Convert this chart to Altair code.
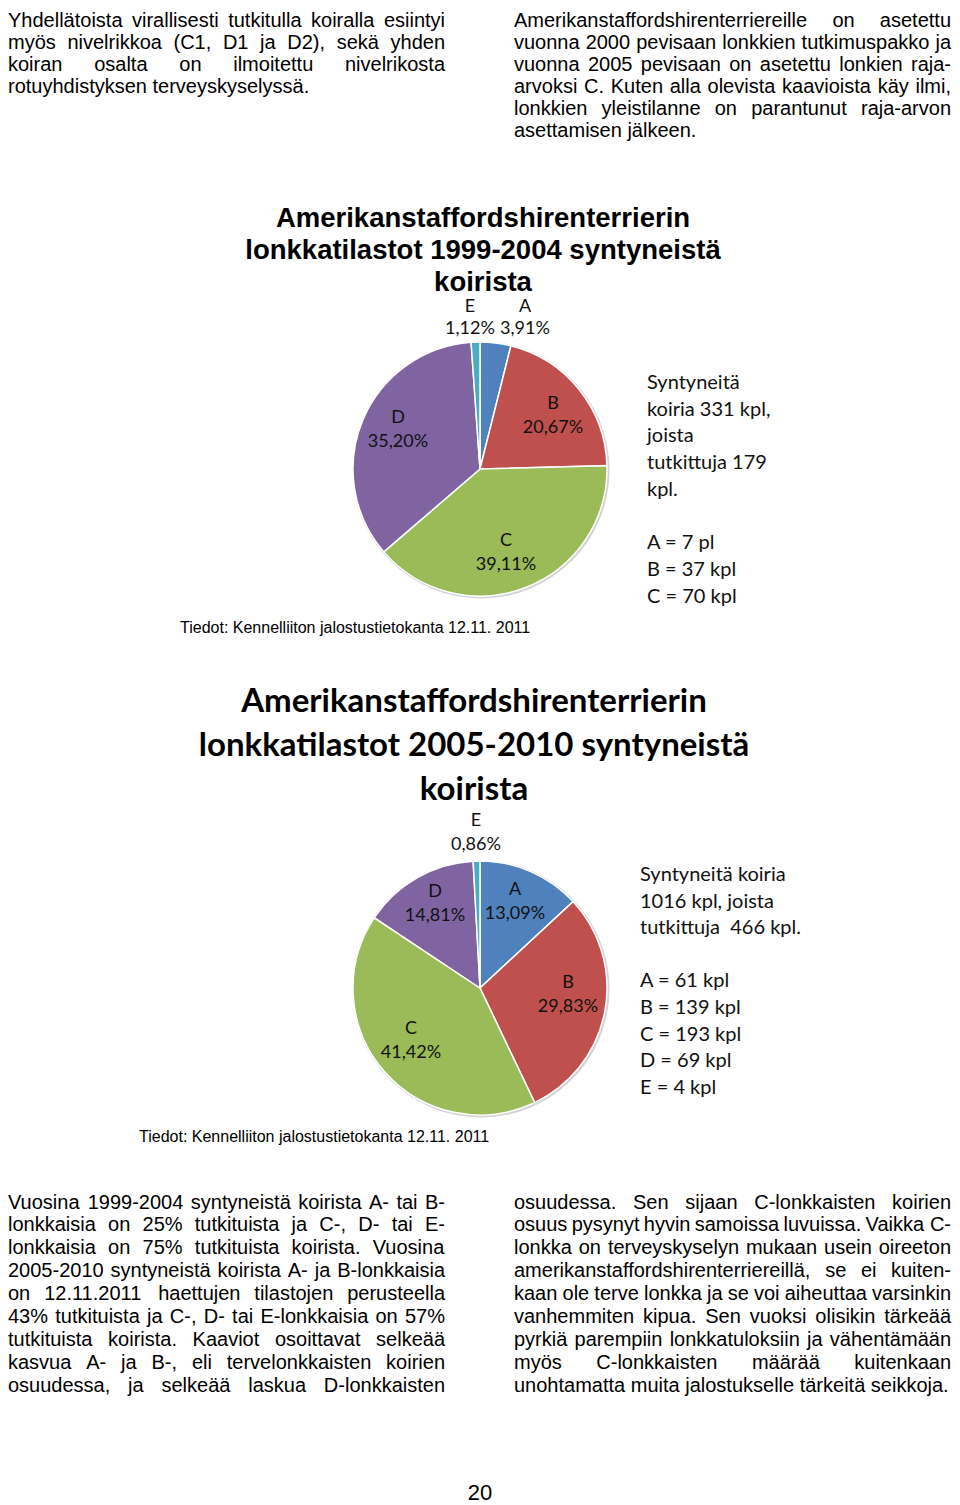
import math
import altair as alt
import pandas as pd

# ---------------- data ----------------
grades = ["A", "B", "C", "D", "E"]
share_1999_2004 = [3.91, 20.67, 39.11, 35.20, 1.12]
share_2005_2010 = [13.09, 29.83, 41.42, 14.81, 0.86]
grade_colors = ["#4F81BD", "#C0504D", "#9BBB59", "#8064A2", "#4BACC6"]

title_1 = ["Amerikanstaffordshirenterrierin", "lonkkatilastot 1999-2004 syntyneistä", "koirista"]
title_2 = ["Amerikanstaffordshirenterrierin", "lonkkatilastot 2005-2010 syntyneistä", "koirista"]

side_1 = ["Syntyneitä", "koiria 331 kpl,", "joista", "tutkittuja 179", "kpl.", "",
          "A = 7 pl", "B = 37 kpl", "C = 70 kpl"]
side_2 = ["Syntyneitä koiria", "1016 kpl, joista", "tutkittuja\u00a0 466 kpl.", "",
          "A = 61 kpl", "B = 139 kpl", "C = 193 kpl", "D = 69 kpl", "E = 4 kpl"]

source_text = "Tiedot: Kennelliiton jalostustietokanta 12.11. 2011"
page_number = "20"

# paragraphs: (line, justified)
para_top_left = [
    ("Yhdellätoista virallisesti tutkitulla koiralla esiintyi", True),
    ("myös nivelrikkoa (C1, D1 ja D2), sekä yhden", True),
    ("koiran osalta on ilmoitettu nivelrikosta", True),
    ("rotuyhdistyksen terveyskyselyssä.", False),
]
para_top_right = [
    ("Amerikanstaffordshirenterriereille on asetettu", True),
    ("vuonna 2000 pevisaan lonkkien tutkimuspakko ja", True),
    ("vuonna 2005 pevisaan on asetettu lonkien raja-", True),
    ("arvoksi C. Kuten alla olevista kaavioista käy ilmi,", True),
    ("lonkkien yleistilanne on parantunut raja-arvon", True),
    ("asettamisen jälkeen.", False),
]
para_bottom_left = [
    ("Vuosina 1999-2004 syntyneistä koirista A- tai B-", True),
    ("lonkkaisia on 25% tutkituista ja C-, D- tai E-", True),
    ("lonkkaisia on 75% tutkituista koirista. Vuosina", True),
    ("2005-2010 syntyneistä koirista A- ja B-lonkkaisia", True),
    ("on 12.11.2011 haettujen tilastojen perusteella", True),
    ("43% tutkituista ja C-, D- tai E-lonkkaisia on 57%", True),
    ("tutkituista koirista. Kaaviot osoittavat selkeää", True),
    ("kasvua A- ja B-, eli tervelonkkaisten koirien", True),
    ("osuudessa, ja selkeää laskua D-lonkkaisten", True),
]
para_bottom_right = [
    ("osuudessa. Sen sijaan C-lonkkaisten koirien", True),
    ("osuus pysynyt hyvin samoissa luvuissa. Vaikka C-", True),
    ("lonkka on terveyskyselyn mukaan usein oireeton", True),
    ("amerikanstaffordshirenterriereillä, se ei kuiten-", True),
    ("kaan ole terve lonkka ja se voi aiheuttaa varsinkin", True),
    ("vanhemmiten kipua. Sen vuoksi olisikin tärkeää", True),
    ("pyrkiä parempiin lonkkatuloksiin ja vähentämään", True),
    ("myös C-lonkkaisten määrää kuitenkaan", True),
    ("unohtamatta muita jalostukselle tärkeitä seikkoja.", False),
]

# ---------------- layout helpers ----------------
OFF = 8
W, H = 944, 1497
BODY_FONT = "Liberation Sans"
CAL_FONT = "Lato"
BODY_FS = 20

AW = {" ": 278, "!": 278, "%": 889, "(": 333, ")": 333, ",": 278, "-": 333, ".": 278, ":": 278}
for d in "0123456789":
    AW[d] = 556
AW.update(dict(zip("ABCDEFGHIJKLMNOPQRSTUVWXYZ",
                   [667, 667, 722, 722, 667, 611, 778, 722, 278, 500, 667, 556, 833,
                    722, 778, 667, 778, 722, 667, 611, 722, 667, 944, 667, 667, 611])))
AW.update(dict(zip("abcdefghijklmnopqrstuvwxyz",
                   [556, 556, 500, 556, 556, 278, 556, 556, 222, 222, 500, 222, 833,
                    556, 556, 556, 556, 333, 500, 278, 556, 500, 722, 500, 500, 500])))
AW.update({"ä": 556, "ö": 556, "å": 556, "Ä": 667, "Ö": 778})


def tw(s, fs):
    return sum(AW.get(c, 556) for c in s) * fs / 1000.0


def justify(lines, x0, x1, y0, dy, fs):
    rows = []
    for i, (line, just) in enumerate(lines):
        words = line.split()
        y = y0 + i * dy
        if just and len(words) > 1:
            total = sum(tw(w, fs) for w in words)
            gap = (x1 - x0 - total) / (len(words) - 1)
        else:
            gap = tw(" ", fs)
        x = x0
        for w in words:
            rows.append({"x": x - OFF, "y": y - OFF, "text": w})
            x += tw(w, fs) + gap
    return rows


def text_layer(rows, **mk):
    df = pd.DataFrame(rows)
    return alt.Chart(df).mark_text(**mk).encode(
        x=alt.X("x:Q", scale=None, axis=None),
        y=alt.Y("y:Q", scale=None, axis=None),
        text="text:N",
    )


def pct(v):
    return f"{v:.2f}".replace(".", ",") + "%"


def pie(values, cx, cy, r):
    df = pd.DataFrame({"grade": grades, "share": values, "k": list(range(len(grades)))})
    return alt.Chart(df).mark_arc(radius=r, stroke="white", strokeWidth=1.5).encode(
        theta=alt.Theta("share:Q", stack=True),
        color=alt.Color("grade:N", scale=alt.Scale(domain=grades, range=grade_colors), legend=None),
        order=alt.Order("k:Q"),
        x=alt.value(cx - OFF),
        y=alt.value(cy - OFF),
    )


def rim(cx, cy, r):
    df = pd.DataFrame({"k": [0]})
    return alt.Chart(df).mark_arc(radius=r, theta=0, theta2=2 * math.pi, color="#d4d4d4").encode(
        x=alt.value(cx - OFF), y=alt.value(cy - OFF)
    )


# ---------------- body text ----------------
body_rows = []
body_rows += justify(para_top_left, 8, 445, 26.5, 22.0, BODY_FS)
body_rows += justify(para_top_right, 514, 951, 26.5, 22.0, BODY_FS)
body_rows += justify(para_bottom_left, 8, 445, 1208.5, 22.9, BODY_FS)
body_rows += justify(para_bottom_right, 514, 951, 1208.5, 22.9, BODY_FS)
body = text_layer(body_rows, font=BODY_FONT, fontSize=BODY_FS, align="left",
                  baseline="alphabetic", color="black")

# titles
t1_rows = [{"x": 483 - OFF, "y": yy - OFF, "text": t} for t, yy in zip(title_1, [219, 251, 283])]
t1 = text_layer(t1_rows, font=BODY_FONT, fontSize=27.5, fontWeight="bold",
                align="center", baseline="middle", color="black")
t2_rows = [{"x": 474 - OFF, "y": yy - OFF, "text": t} for t, yy in zip(title_2, [702, 746, 790])]
t2 = text_layer(t2_rows, font=CAL_FONT, fontSize=33, fontWeight="bold",
                align="center", baseline="middle", color="black")

# pie labels (letter above percentage)
lab_pos_1 = {"A": (525, 307), "B": (553, 404), "C": (506, 541), "D": (398, 418), "E": (470, 307)}
lab_pos_2 = {"A": (515, 890), "B": (568, 983), "C": (411, 1029), "D": (435, 892), "E": (476, 821)}
lab_rows = []
for g, v in zip(grades, share_1999_2004):
    x, y = lab_pos_1[g]
    dy = 22 if g in ("A", "E") else 24
    lab_rows.append({"x": x - OFF, "y": y - OFF, "text": g})
    lab_rows.append({"x": x - OFF, "y": y + dy - OFF, "text": pct(v)})
for g, v in zip(grades, share_2005_2010):
    x, y = lab_pos_2[g]
    lab_rows.append({"x": x - OFF, "y": y - OFF, "text": g})
    lab_rows.append({"x": x - OFF, "y": y + 24 - OFF, "text": pct(v)})
labels = text_layer(lab_rows, font=CAL_FONT, fontSize=18, align="center",
                    baseline="middle", color="#111111")

# side notes
side_rows = []
for i, t in enumerate(side_1):
    if t:
        side_rows.append({"x": 647 - OFF, "y": 383 + i * 26.7 - OFF, "text": t})
for i, t in enumerate(side_2):
    if t:
        side_rows.append({"x": 640 - OFF, "y": 875 + i * 26.6 - OFF, "text": t})
side = text_layer(side_rows, font=CAL_FONT, fontSize=20, align="left",
                  baseline="middle", color="#111111")

# sources and page number
src_rows = [{"x": 180 - OFF, "y": 632.5 - OFF, "text": source_text},
            {"x": 139 - OFF, "y": 1141.5 - OFF, "text": source_text}]
src = text_layer(src_rows, font=BODY_FONT, fontSize=16, align="left",
                 baseline="alphabetic", color="black")
pg = text_layer([{"x": 480 - OFF, "y": 1499.5 - OFF, "text": page_number}],
                font=BODY_FONT, fontSize=22, align="center", baseline="alphabetic", color="black")

pie1 = pie(share_1999_2004, 480, 469, 127)
pie2 = pie(share_2005_2010, 480, 988, 127)
rim1 = rim(481, 470, 128.5)
rim2 = rim(481, 989, 128.5)

chart = alt.layer(rim1, rim2, pie1, pie2, body, t1, t2, labels, side, src, pg).resolve_scale(
    theta="independent"
).properties(
    width=W, height=H, padding=0, autosize=alt.AutoSizeParams(type="none"),
    background="white",
).configure_view(stroke=None)

chart.save("out.html", embed_options={"renderer": "svg", "actions": False})
